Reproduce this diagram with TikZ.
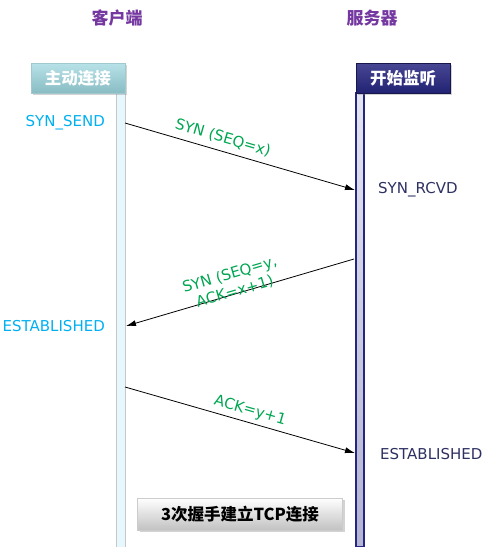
\documentclass[tikz,border=0pt]{standalone}
\usepackage{fontspec}
\setmainfont{DejaVu Sans}
\newfontfamily\cjk{Noto Sans CJK SC}
\usetikzlibrary{arrows.meta,shadows,positioning}

\definecolor{titlepurple}{HTML}{7438A0}
\definecolor{statecyan}{HTML}{00B0F0}
\definecolor{statenavy}{HTML}{2E3062}
\definecolor{msggreen}{HTML}{00A651}
\definecolor{servernavy}{HTML}{262680}
\definecolor{clienttop}{HTML}{B8E2E8}
\definecolor{clientbot}{HTML}{88BCC3}

\tikzset{
  title/.style={font=\cjk\bfseries\fontsize{17}{20}\selectfont, text=titlepurple},
  headbox/.style={minimum width=94pt, minimum height=30pt, inner sep=0pt,
    font=\cjk\bfseries\fontsize{16.5}{19}\selectfont, text=white,
    drop shadow={shadow xshift=2pt, shadow yshift=-2pt, opacity=.35}},
  clienthead/.style={headbox, top color=clienttop, bottom color=clientbot, draw=clientbot!80!white},
  serverhead/.style={headbox, top color=servernavy!85!white, bottom color=servernavy!90!black, draw=servernavy!60!black},
  notebox/.style={minimum width=205pt, minimum height=32pt, inner sep=0pt,
    font=\cjk\bfseries\fontsize{16.5}{19}\selectfont, text=black,
    top color=white, bottom color=black!24, draw=black!20,
    drop shadow={shadow xshift=2pt, shadow yshift=-2pt, opacity=.35}},
  cstate/.style={inner sep=0pt, text=statecyan, font=\fontsize{15}{18}\selectfont},
  sstate/.style={inner sep=0pt, text=statenavy, font=\fontsize{15}{18}\selectfont},
  msg/.style={draw=black, line width=0.8pt, ->},
  msglabel/.style={inner sep=0pt, text=msggreen, font=\fontsize{15}{18}\selectfont, sloped}
}

\begin{document}
\begin{tikzpicture}[x=1pt, y=-1pt, >={Latex[length=10pt,width=6pt]}]
\useasboundingbox (0,0) rectangle (483,547);

% lifelines
\draw[fill=cyan!10!white, draw=black!22, line width=1pt] (116,93) rectangle (125,547);
\shade[top color=servernavy!12!white, bottom color=servernavy!35!white] (356,93) rectangle (364,547);
\draw[servernavy, line width=1.2pt] (356,93) rectangle (364,547);

% titles and heads
\node[title] (clienttitle) at (117,18) {客户端};
\node[title] (servertitle) at (372,18) {服务器};
\node[clienthead] (clienthd) at (78,78) {主动连接};
\node[serverhead] (serverhd) at (403,78) {开始监听};

% states
\node[cstate, anchor=east] (synsend) at (105,123) {SYN\_SEND};
\node[sstate, anchor=west] (synrcvd) at (378,190) {SYN\_RCVD};
\node[cstate, anchor=east] (clientest) at (105,326) {ESTABLISHED};
\node[sstate, anchor=west] (serverest) at (380,454) {ESTABLISHED};

% message ends on the lifelines
\coordinate (csend) at (125,123);
\coordinate (srcvd) at (355,190);
\coordinate (ssyn) at (354,259);
\coordinate (cest) at (126,326);
\coordinate (cack) at (125,387);
\coordinate (sest) at (355,453);

\draw[msg] (csend) -- node[msglabel, pos=0.41, above=6pt] {SYN (SEQ=x)} (srcvd);
\draw[msg] (ssyn) -- node[msglabel, pos=0.52, above=-5pt, align=center] {SYN (SEQ=y,\\ ACK=x+1)} (cest);
\draw[msg] (cack) -- node[msglabel, pos=0.53, above=4pt] {ACK=y+1} (sest);

\node[notebox] (note) at (240,514) {3次握手建立TCP连接};
\end{tikzpicture}
\end{document}
